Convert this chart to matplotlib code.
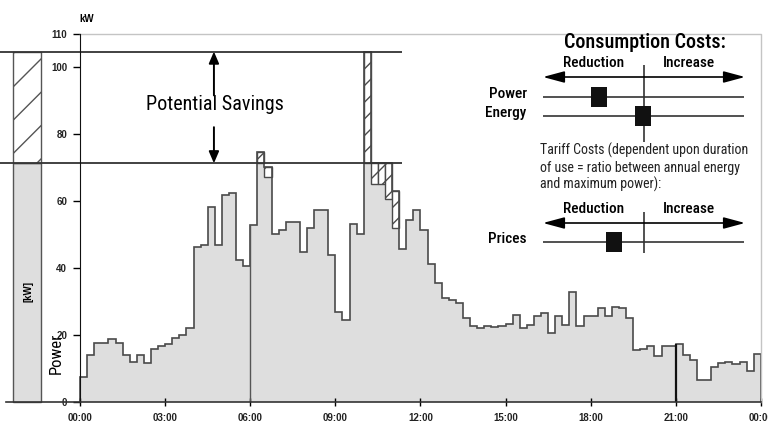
import numpy as np
import matplotlib
matplotlib.use("Agg")
import matplotlib.pyplot as plt
from matplotlib import font_manager

# 15-minute load profile, kW (00:00 ... 23:45)
load = [
    7.3, 14.0, 17.5, 17.5, 18.8, 17.5, 13.8, 11.8,
    13.8, 11.5, 15.8, 16.7, 17.3, 19.0, 19.8, 21.9,
    46.3, 46.8, 58.0, 46.8, 61.8, 62.3, 42.2, 40.5,
    52.8, 74.5, 70.0, 50.2, 51.2, 53.8, 53.8, 44.7,
    51.8, 57.2, 57.2, 43.8, 26.9, 24.5, 53.2, 50.0,
    104.6, 71.3, 71.3, 71.3, 63.0, 45.7, 54.3, 57.3,
    51.3, 41.0, 35.5, 30.9, 30.2, 29.5, 25.0, 22.7,
    21.9, 22.6, 22.2, 22.7, 23.2, 26.0, 22.0, 22.8,
    25.5, 26.5, 20.5, 25.5, 22.8, 32.8, 22.5, 25.5,
    25.5, 28.0, 25.5, 28.3, 27.8, 25.0, 15.5, 15.7,
    16.7, 13.5, 16.5, 16.5, 17.2, 14.0, 12.5, 6.5,
    6.5, 10.2, 11.5, 11.8, 11.3, 11.8, 9.0, 14.2,
]
limit = 71.2
# slots where the load is shaved / shifted, and the reduced level there
shift_slots = ["06:15", "06:30", "10:00", "10:15", "10:30", "10:45", "11:00"]
shift_values = [71.2, 67.0, 71.2, 65.0, 65.0, 60.5, 52.0]
marker_hours = [6, 21]

xtick_hours = [0, 3, 6, 9, 12, 15, 18, 21, 24]
xtick_labels = ["00:00", "03:00", "06:00", "09:00", "12:00", "15:00", "18:00", "21:00", "00:00"]
ytick_values = [0, 20, 40, 60, 80, 100, 110]

cost_items = ["Power", "Energy"]
cost_pos = [-0.45, -0.01]
tariff_items = ["Prices"]
tariff_pos = [-0.30]

# pick a narrow sans if there is one
names = {f.name for f in font_manager.fontManager.ttflist}
narrow = [n for n in ["Liberation Sans Narrow", "Roboto Condensed"] if n in names]
cond = narrow[0] if narrow else "Roboto"
k = 1.0 if narrow else 0.9

plt.rcParams["font.family"] = ["Liberation Sans", "DejaVu Sans"]
plt.rcParams["hatch.linewidth"] = 1.0

W, H = 768, 423


def fx(px):
    return px / W


def fy(py):
    return 1 - py / H


load = np.array(load)
edges = np.arange(len(load) + 1) * 0.25
reduced = load.copy()
for slot, val in zip(shift_slots, shift_values):
    h, m = slot.split(":")
    reduced[int(h) * 4 + int(m) // 15] = val
peak = load.max()

fig = plt.figure(figsize=(7.68, 4.23), dpi=100)
ax = fig.add_axes([fx(6.3), fy(401.5), (760.8 - 6.3) / W, (401.5 - 33.5) / H])
ax.set_xlim(-2.6, 24.0)
ax.set_ylim(0, 110)

gray = "#dedede"
edge = "#4a4a4a"

# load curve
ax.stairs(reduced, edges, fill=True, color=gray, lw=0)
sel = np.where(load != reduced)[0]
ax.bar(edges[sel], load[sel] - reduced[sel], bottom=reduced[sel], width=0.25,
       align="edge", facecolor="white", edgecolor=edge, hatch="//", lw=1.0)
ax.stairs(load, edges, baseline=0, color=edge, lw=1.2)
for hr in marker_hours:
    i = int(hr * 4)
    ax.vlines(hr, 0, load[i], color="#111" if hr == 21 else "#555",
              lw=1.6 if hr == 21 else 1.0)

# summary bar on the left
ax.bar(-2.36, limit, width=0.98, align="edge", color=gray, edgecolor="#555",
       lw=1.0, clip_on=False)
ax.bar(-2.36, peak - limit, bottom=limit, width=0.98, align="edge",
       facecolor="white", edgecolor="#555", hatch="/", lw=1.0, clip_on=False)
ax.hlines([peak, limit], -2.83, 11.36, colors="#333", lw=1.3, clip_on=False)

# savings arrows
ax.annotate("", xy=(4.72, peak), xytext=(4.72, 91.5),
            arrowprops=dict(arrowstyle="-|>,head_length=0.7,head_width=0.3",
                            color="black", lw=1.4, shrinkA=0, shrinkB=0))
ax.annotate("", xy=(4.72, limit), xytext=(4.72, 82.0),
            arrowprops=dict(arrowstyle="-|>,head_length=0.7,head_width=0.3",
                            color="black", lw=1.4, shrinkA=0, shrinkB=0))
ax.text(4.76, 88.8, "Potential Savings", ha="center", va="center",
        fontsize=14.5 * k, family=cond)

# frame
ax.plot([0, 24, 24], [110, 110, 0], color="#c4c4c4", lw=1.0, clip_on=False)
for s in ["top", "right"]:
    ax.spines[s].set_visible(False)
ax.spines["left"].set_position(("data", 0))
ax.spines["left"].set_color("#111")
ax.spines["bottom"].set_color("#333")
ax.spines["bottom"].set_linewidth(1.2)

ax.set_yticks(ytick_values)
ax.set_xticks(xtick_hours)
ax.set_xticklabels(xtick_labels)
ax.tick_params(axis="y", direction="out", length=5, width=1, pad=4.3, labelsize=7)
ax.tick_params(axis="x", direction="inout", length=6, width=1, pad=5, labelsize=7)
plt.setp(ax.get_xticklabels() + ax.get_yticklabels(), fontweight="bold", color="#222")

fig.text(fx(87), fy(19), "kW", ha="center", va="center", fontsize=7, weight="bold")
fig.text(fx(56), fy(353), "Power", rotation=90, ha="center", va="center",
         fontsize=12 * k, family=cond)
fig.text(fx(28), fy(292), "[kW]", rotation=90, ha="center", va="center",
         fontsize=7, weight="bold")

# consumption costs panel
fig.text(fx(645), fy(43), "Consumption Costs:", ha="center", va="center",
         fontsize=14.5 * k, family=cond, weight="medium")


def scale_panel(top, bottom, arrow_y, rows_y, vline, label_y, items, pos):
    sa = fig.add_axes([fx(543), fy(bottom), 202 / W, (bottom - top) / H])
    sa.set_xlim(-1, 1)
    sa.set_ylim(bottom, top)
    sa.axis("off")
    sa.annotate("", xy=(-1, arrow_y), xytext=(1, arrow_y),
                arrowprops=dict(arrowstyle="<|-|>,head_length=1.3,head_width=0.35",
                                color="black", lw=1.2, shrinkA=0, shrinkB=0))
    sa.vlines(0, vline[0], vline[1], color="#333", lw=1.2)
    sa.text(-0.5, label_y, "Reduction", ha="center", va="center",
            fontsize=11 * k, family=cond, weight="medium")
    sa.text(0.44, label_y, "Increase", ha="center", va="center",
            fontsize=11 * k, family=cond, weight="medium")
    rect = [(-0.37, -0.5), (0.37, -0.5), (0.37, 0.5), (-0.37, 0.5), (-0.37, -0.5)]
    for name, p, y in zip(items, pos, rows_y):
        sa.hlines(y, -1, 0.99, color="#333", lw=1.2)
        sa.plot(p, y, marker=rect, ms=15, color="#111", mew=0)
        sa.text(-1.16, y - 3, name, ha="right", va="center",
                fontsize=11 * k, family=cond, weight="medium")
    return sa


scale_panel(60, 145, 77, [97, 116], (65, 142), 63, cost_items, cost_pos)

fig.text(fx(540), fy(143),
         "Tariff Costs (dependent upon duration\nof use = ratio between annual energy\nand maximum power):",
         ha="left", va="top", fontsize=10 * k, linespacing=1.2, family=cond, color="#222")

scale_panel(200, 258, 223, [242], (212, 253), 209, tariff_items, tariff_pos)

fig.savefig("out.png", dpi=100)
